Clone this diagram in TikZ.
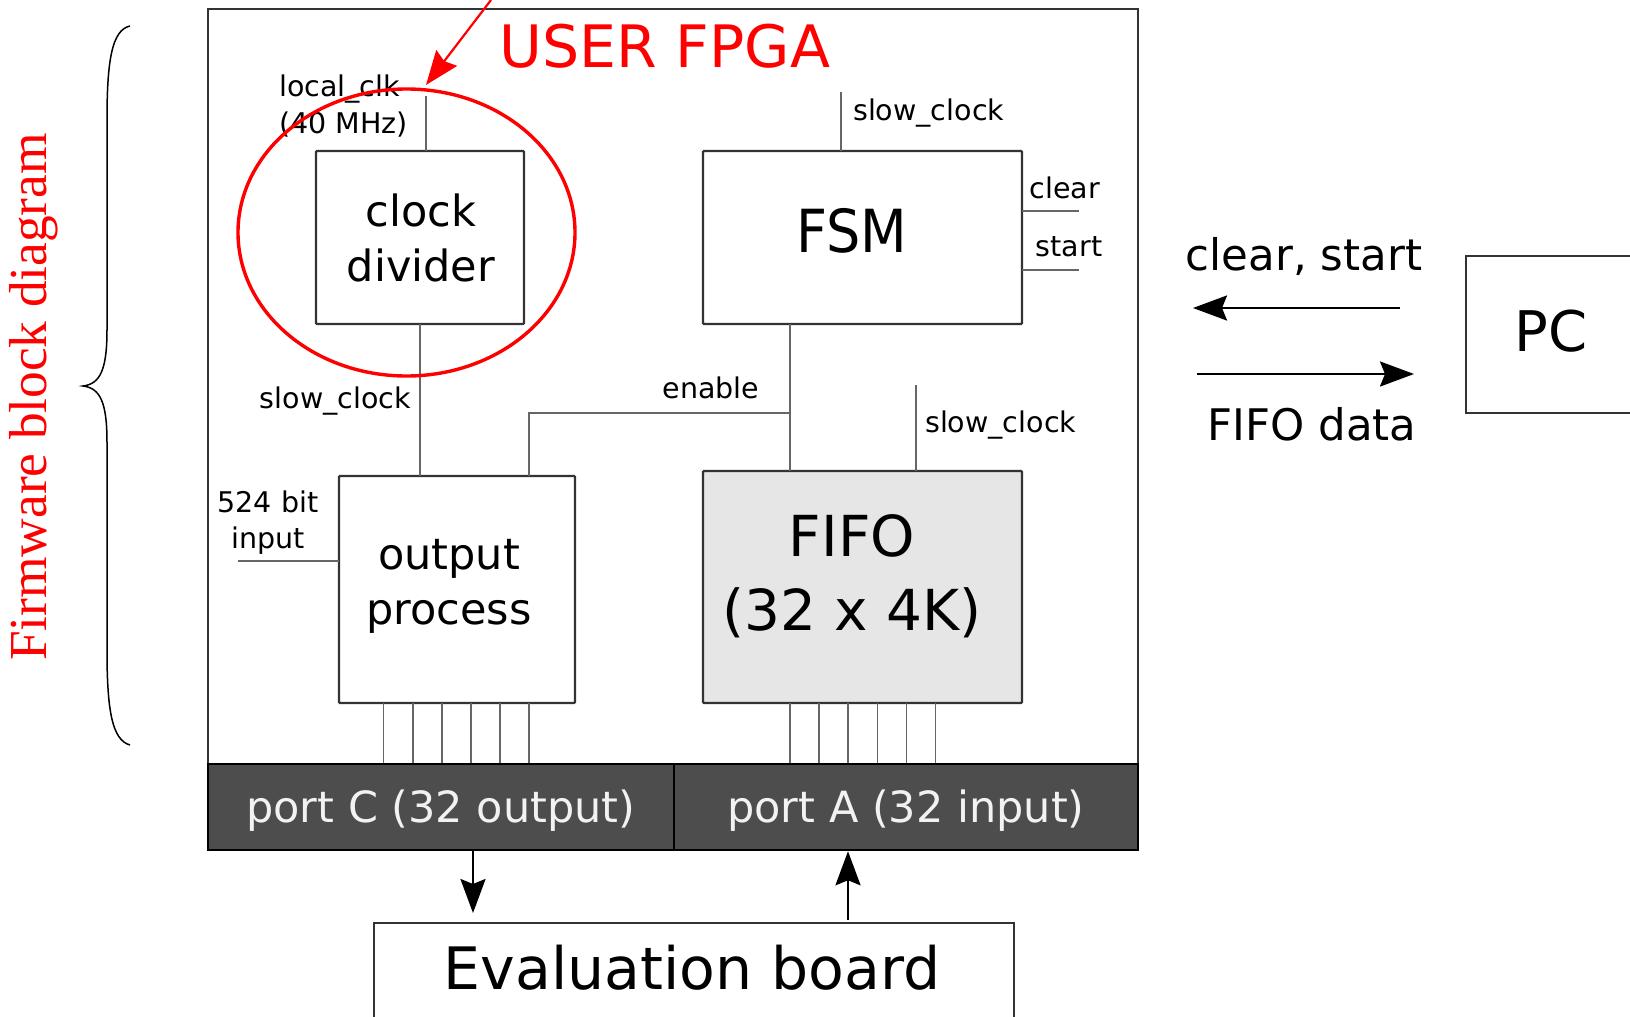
\documentclass[tikz,border=0pt]{standalone}
\usepackage{fontspec}
\setmainfont{DejaVu Sans}
\newfontfamily\serifrm{Liberation Serif}
\usetikzlibrary{arrows.meta}

\definecolor{edge}{HTML}{333333}
\definecolor{wirec}{HTML}{666666}
\definecolor{portfill}{HTML}{4D4D4D}
\definecolor{fifofill}{HTML}{E6E6E6}
\definecolor{porttext}{HTML}{F2F2F2}

\begin{document}
\begin{tikzpicture}[x=1pt,y=-1pt,
  blk/.style={draw=edge, line width=2.4pt, rounded corners=1pt, inner sep=0pt, outer sep=0pt},
  wire/.style={draw=wirec, line width=1.6pt},
  lab/.style={font=\fontsize{28.5}{36}\selectfont, inner sep=0pt},
  midtxt/.style={font=\fontsize{43}{55}\selectfont, align=center, inner sep=0pt},
  bigtxt/.style={font=\fontsize{58.5}{74}\selectfont, align=center, inner sep=0pt},
  arr/.style={line width=2.6pt, -{Stealth[length=34pt,width=25pt,inset=5pt]}},
  porttxt/.style={text=porttext, font=\fontsize{43}{50}\selectfont, inner sep=0pt}
  ]
\clip (0,0) rectangle (1630,1017);
\fill[white] (0,0) rectangle (1630,1017);

% FPGA outline and I/O port bar
\node[draw=edge, line width=2.2pt, minimum width=930pt, minimum height=755pt, inner sep=0pt] (fpga) at (673,386.7) {};
\node[draw=black, fill=portfill, line width=2.5pt, minimum width=466pt, minimum height=86pt, inner sep=0pt] (portC) at (441,807) {};
\node[draw=black, fill=portfill, line width=2.5pt, minimum width=464pt, minimum height=86pt, inner sep=0pt] (portA) at (906,807) {};
\node[porttxt] at (441,811) {port C (32 output)};
\node[porttxt] at (906,811) {port A (32 input)};

% functional blocks
\node[blk, minimum width=208pt, minimum height=173pt] (clk) at (420,237.5) {};
\node[blk, minimum width=319pt, minimum height=173pt] (fsm) at (862.5,237.5) {};
\node[blk, minimum width=236pt, minimum height=227pt] (outp) at (457,589.5) {};
\node[blk, fill=fifofill, minimum width=319pt, minimum height=232pt] (fifo) at (862.5,587) {};

\node[midtxt] at (421,238) {clock\\divider};
\node[font=\fontsize{54}{60}\selectfont, inner sep=0pt] at (852,231) {\scalebox{1}[1.1]{FSM}};
\node[midtxt] at (449,586) {output\\process};
\node[font=\fontsize{56.5}{74}\selectfont, align=center, inner sep=0pt] at (852,576) {FIFO\\(32 x 4K)};

% signal wires
\coordinate (clkin) at (426,96);
\draw[wire] (clkin) -- (clkin |- clk.north);
\draw[wire] (clk.south) -- (clk.south |- outp.north);
\draw[wire] (fsm.south -| 790,0) -- (fifo.north -| 790,0);
\coordinate (entap) at (790,413);
\draw[wire] (outp.north -| 529,0) |- (entap);
\coordinate (fsmclk) at (841,91.5);
\draw[wire] (fsmclk) -- (fsmclk |- fsm.north);
\coordinate (fifoclk) at (916,385);
\draw[wire] (fifoclk) -- (fifoclk |- fifo.north);
\coordinate (clrend) at (1079,211);
\coordinate (stend) at (1079,270);
\draw[wire] (fsm.east |- clrend) -- (clrend);
\draw[wire] (fsm.east |- stend) -- (stend);
\coordinate (datain) at (238,561);
\draw[wire] (datain) -- (outp.west |- datain);

% 32-bit buses to the ports
\foreach \i in {0,...,5}{
  \pgfmathsetmacro\xa{383.6+29.1*\i}
  \pgfmathsetmacro\xb{790+29.1*\i}
  \draw[wire] (outp.south -| \xa,0) -- (portC.north -| \xa,0);
  \draw[wire] (fifo.south -| \xb,0) -- (portA.north -| \xb,0);
}

% signal labels
\node[lab, align=left, anchor=west, font=\fontsize{28.5}{37}\selectfont] at (279,106.5) {local\_clk\\(40 MHz)};
\node[lab, anchor=east] at (411,401) {slow\_clock};
\node[lab, align=center, font=\fontsize{28.5}{36}\selectfont] at (268,523) {524 bit\\input};
\node[lab] at (711,388) {enable};
\node[lab, anchor=west] at (853,113) {slow\_clock};
\node[lab, anchor=west] at (925,425) {slow\_clock};
\node[lab] at (1065,188) {clear};
\node[lab] at (1069,247) {start};

% evaluation board
\node[draw=edge, line width=2.2pt, minimum width=640pt, minimum height=102pt, inner sep=0pt] (eval) at (694,974) {};
\node[bigtxt] at (692,968) {Evaluation board};
\coordinate (cdown) at (473,913);
\draw[arr] (portC.south -| cdown) -- (cdown);
\coordinate (aup) at (848,920);
\draw[arr] (aup) -- (portA.south -| aup);

% host PC link
\node[draw=edge, line width=2.2pt, minimum width=174pt, minimum height=157pt, inner sep=0pt] (pc) at (1553,334.5) {};
\node[font=\fontsize{56}{60}\selectfont, inner sep=0pt] at (1551,331) {PC};
\coordinate (cmdA) at (1400,308);
\coordinate (cmdB) at (1193,308);
\coordinate (datA) at (1197,374);
\coordinate (datB) at (1414,374);
\draw[arr] (cmdA) -- (cmdB);
\draw[arr] (datA) -- (datB);
\node[font=\fontsize{43.5}{50}\selectfont, inner sep=0pt] at (1304,256) {clear, start};
\node[font=\fontsize{43.5}{50}\selectfont, inner sep=0pt] at (1312,424) {FIFO data};

% annotations
\node[text=red, font=\fontsize{58.5}{60}\selectfont, inner sep=0pt] at (665,46) {USER FPGA};
\draw[red, line width=3.4pt] (406.5,232.5) ellipse [x radius=168.5, y radius=143.5];
\coordinate (callout) at (491,0);
\coordinate (calltip) at (426,85);
\draw[red, line width=2.2pt, -{Stealth[length=34pt,width=26pt,inset=4pt]}] (callout) -- (calltip);

\draw[black, line width=1.5pt] (130,26) .. controls (112,30) and (107,60) .. (107,120)
  -- (107,330) .. controls (107,370) and (100,384) .. (83,386)
  .. controls (100,388) and (107,402) .. (107,442)
  -- (107,650) .. controls (107,710) and (112,740) .. (130,745);
\node[rotate=90, text=red, font=\serifrm\fontsize{53.4}{60}\selectfont, inner sep=0pt] at (34,397) {Firmware block diagram};
\end{tikzpicture}
\end{document}
